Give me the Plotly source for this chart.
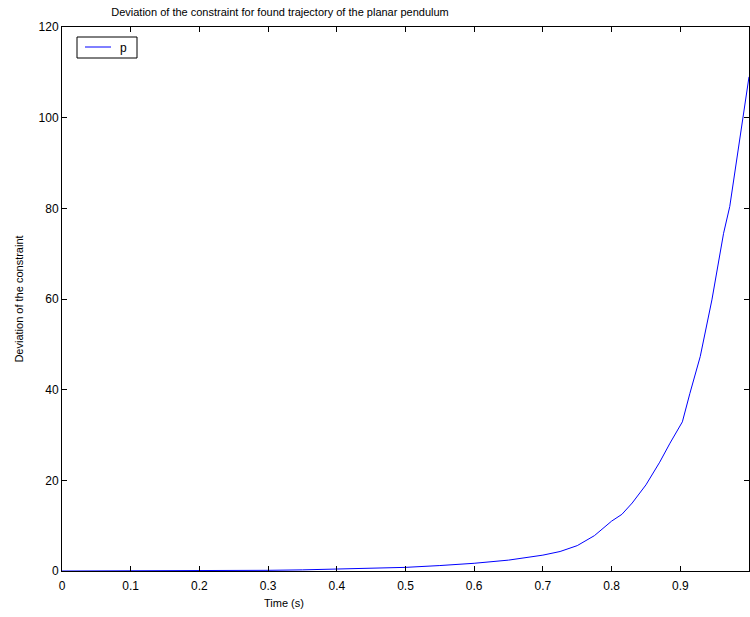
import plotly.graph_objects as go

time_s = [0, 0.1, 0.2, 0.3, 0.35, 0.4, 0.45, 0.5, 0.55, 0.6, 0.65, 0.7, 0.725, 0.75,
          0.775, 0.8, 0.815, 0.83, 0.85, 0.87, 0.885, 0.903, 0.914, 0.929, 0.946,
          0.963, 0.972, 1.0]
deviation = [0, 0.01, 0.05, 0.15, 0.25, 0.4, 0.55, 0.8, 1.2, 1.7, 2.4, 3.5, 4.3, 5.6,
             7.8, 11, 12.5, 15, 19, 24, 28.2, 32.9, 39.2, 47.3, 59.8,
             74.5, 80.4, 109]

x_ticks = [0, 0.1, 0.2, 0.3, 0.4, 0.5, 0.6, 0.7, 0.8, 0.9, 1]
x_tick_labels = ["0", "0.1", "0.2", "0.3", "0.4", "0.5", "0.6", "0.7", "0.8", "0.9", "1"]
y_ticks = [0, 20, 40, 60, 80, 100, 120]
series_name = "p"

W, H = 750, 617
L, R, T, B = 62, 1, 27, 46
PW, PH = W - L - R, H - T - B


def px_x(p):
    # pixel -> plot-area ("paper") fraction
    return (p - L) / PW


def px_y(p):
    return (H - B - p) / PH


fig = go.Figure()
fig.add_trace(go.Scatter(x=time_s, y=deviation, mode="lines", name=series_name,
                         line=dict(color="#0000ff", width=1), showlegend=False))

axis_common = dict(showgrid=False, zeroline=False, showline=True, linecolor="black",
                   linewidth=1, mirror="ticks", ticks="inside", ticklen=5,
                   tickcolor="black", tickfont=dict(size=12, color="black"))

# MATLAB-style compact legend box
fig.add_shape(type="rect", xref="paper", yref="paper",
              x0=px_x(77), x1=px_x(137), y0=px_y(58), y1=px_y(37),
              line=dict(color="black", width=1), fillcolor="white", layer="above")
fig.add_shape(type="line", xref="paper", yref="paper",
              x0=px_x(85), x1=px_x(111), y0=px_y(47), y1=px_y(47),
              line=dict(color="#0000ff", width=1), layer="above")
fig.add_annotation(xref="paper", yref="paper", x=px_x(118), y=px_y(47.5),
                   xanchor="left", yanchor="middle", text=series_name,
                   showarrow=False, font=dict(size=12, color="black"))

# x-axis label, positioned as in the reference
fig.add_annotation(xref="paper", yref="paper", x=px_x(284), y=px_y(603),
                   xanchor="center", yanchor="middle", text="Time (s)",
                   showarrow=False, font=dict(size=11, color="black"))

fig.update_layout(
    width=W, height=H,
    margin=dict(l=L, r=R, t=T, b=B),
    paper_bgcolor="white", plot_bgcolor="white",
    font=dict(family="Liberation Sans, Arial, sans-serif", color="black"),
    title=dict(text="Deviation of the constraint for found trajectory of the planar pendulum",
               x=280 / W, xanchor="center", xref="container",
               y=1 - 12 / H, yanchor="middle", font=dict(size=11)),
    xaxis=dict(range=[0, 1], tickvals=x_ticks, ticktext=x_tick_labels,
               ticklabelstandoff=4, **axis_common),
    yaxis=dict(range=[0, 120], tickvals=y_ticks,
               title=dict(text="Deviation of the constraint", font=dict(size=11), standoff=12),
               **axis_common),
    showlegend=False,
)

fig.write_html("out.html")
